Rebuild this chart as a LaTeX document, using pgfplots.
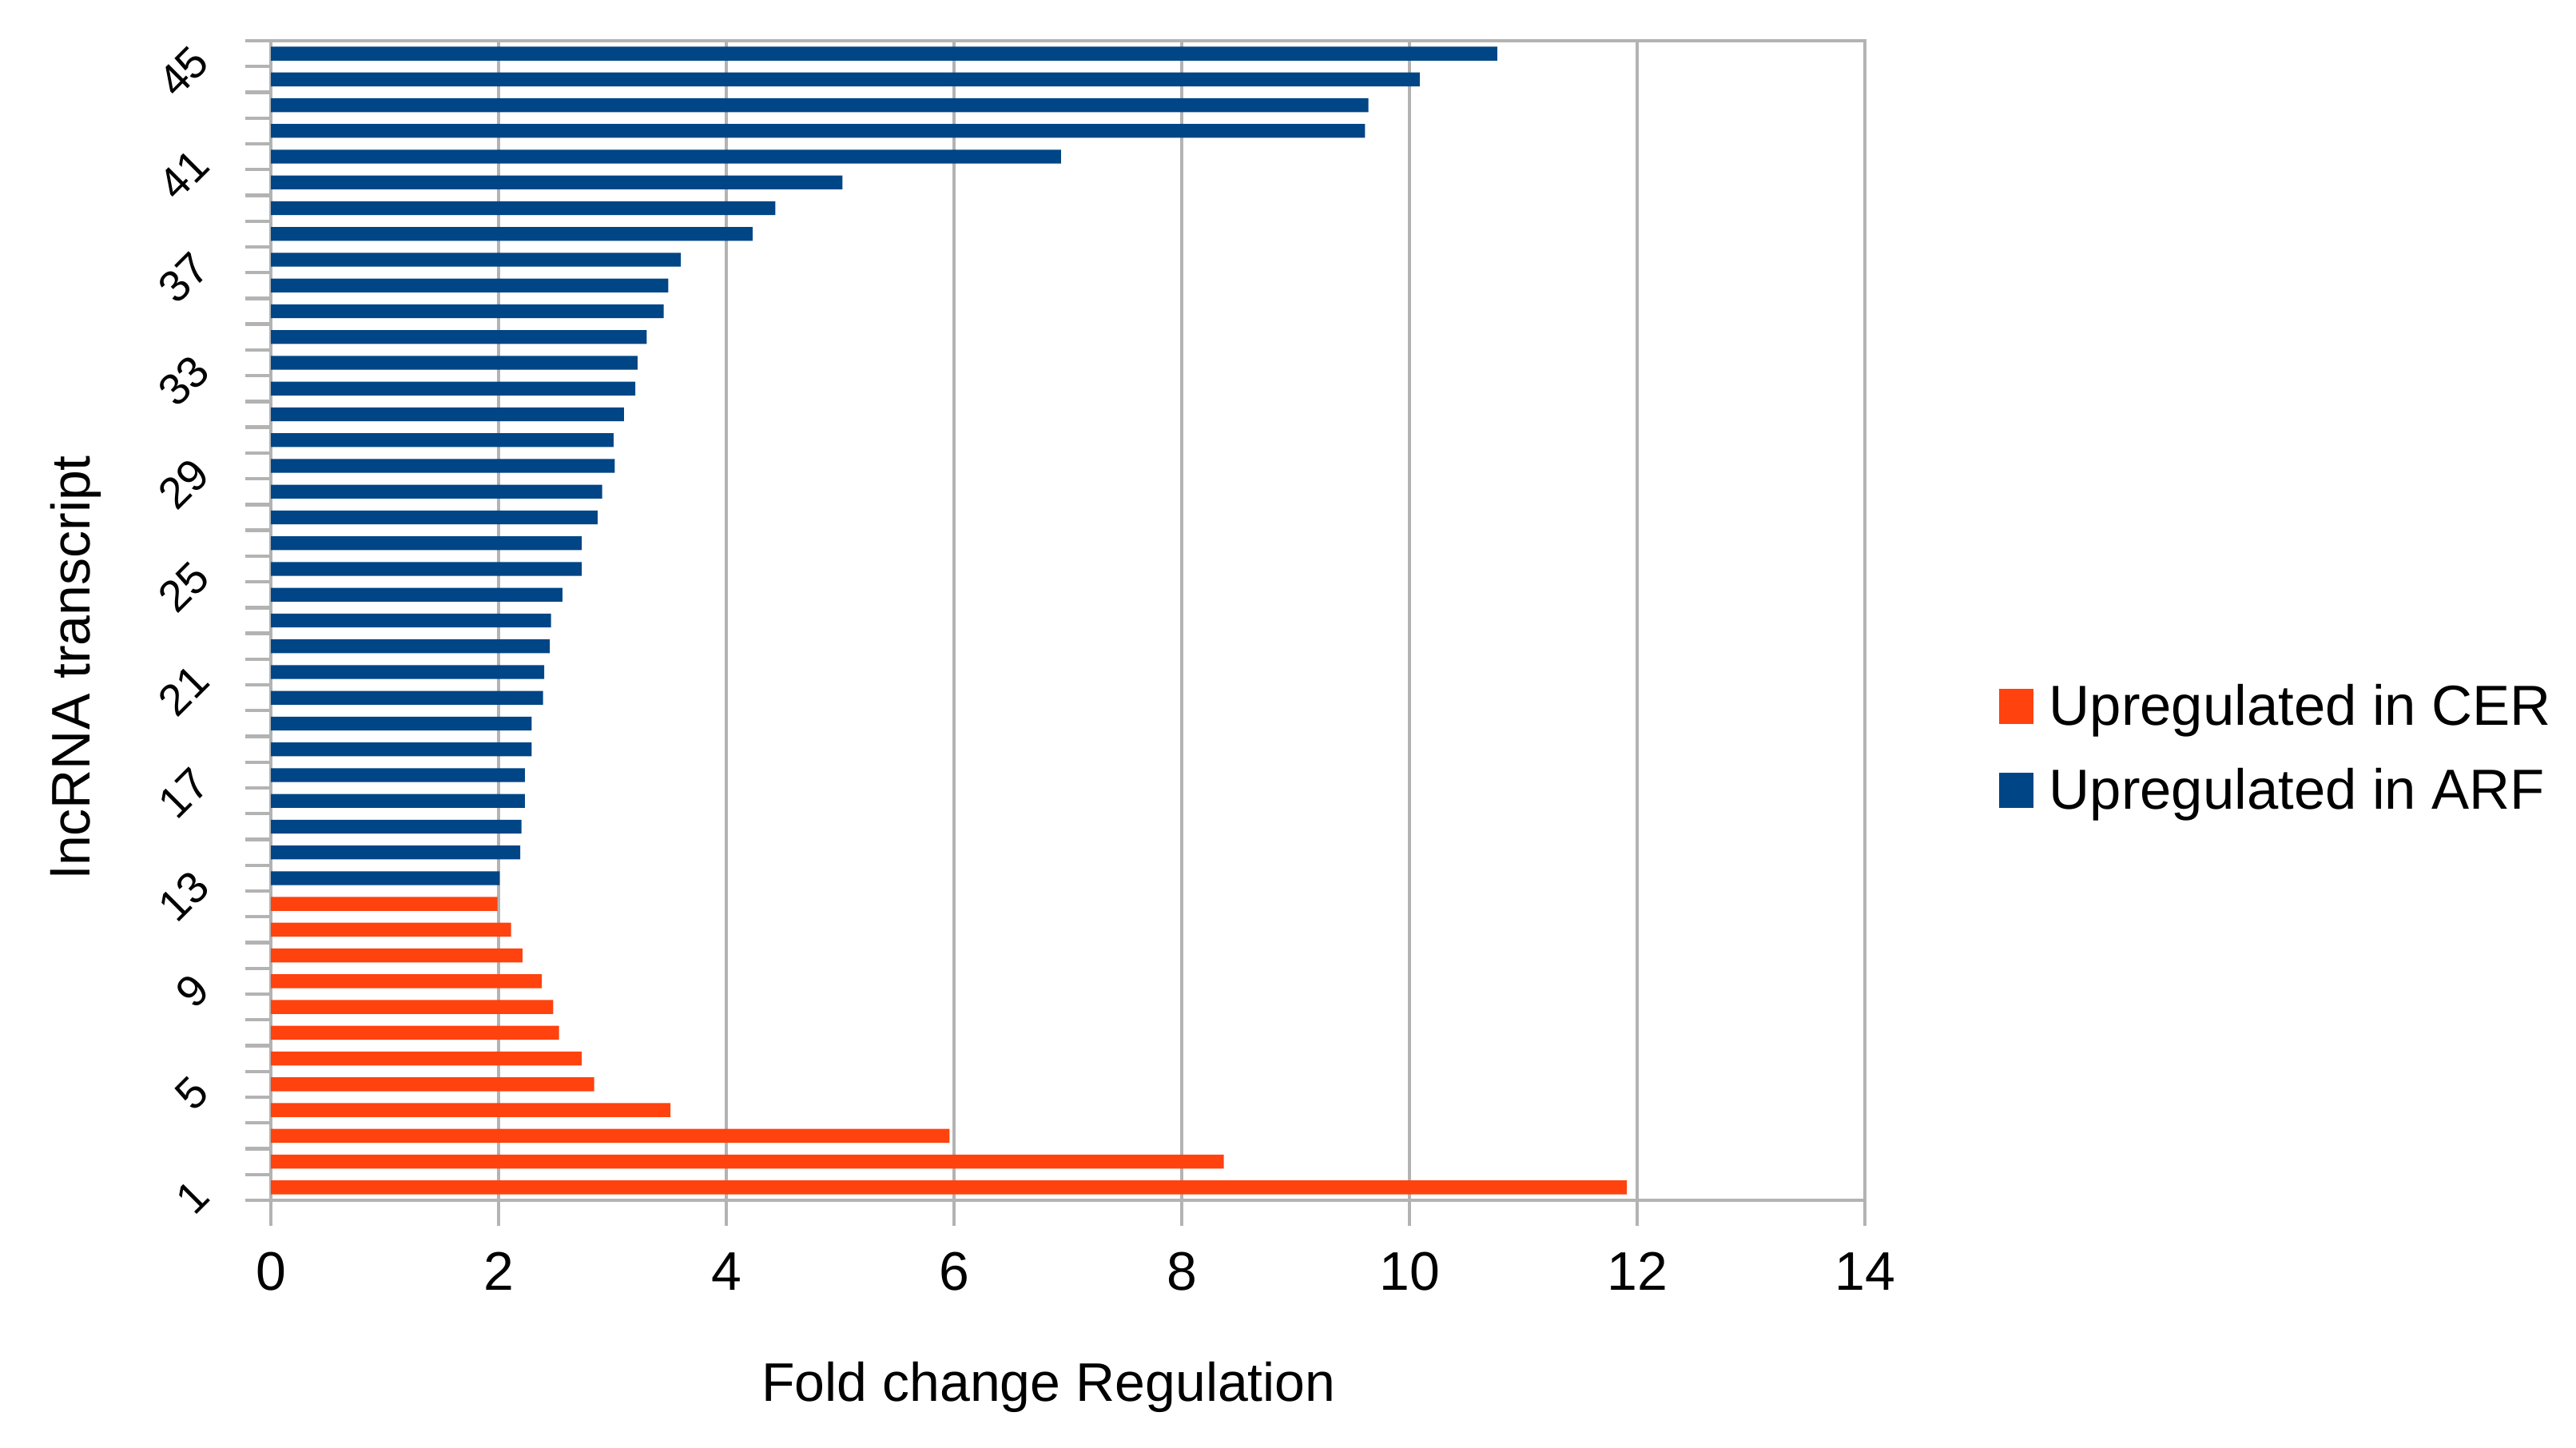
\documentclass[border=0pt]{standalone}
\usepackage{fontspec}
\setmainfont{Liberation Sans}
\usepackage{pgfplots}
\usepackage{pgfplotstable}
\pgfplotsset{compat=1.18}
\definecolor{cer}{HTML}{FF420E}
\definecolor{arf}{HTML}{004586}
\definecolor{gridgray}{HTML}{B3B3B3}
\pgfplotstableread{
y v
1 11.91
2 8.37
3 5.96
4 3.51
5 2.84
6 2.73
7 2.53
8 2.48
9 2.38
10 2.21
11 2.11
12 1.99
}\cerdata
\pgfplotstableread{
y v
13 2.01
14 2.19
15 2.20
16 2.23
17 2.23
18 2.29
19 2.29
20 2.39
21 2.40
22 2.45
23 2.46
24 2.56
25 2.73
26 2.73
27 2.87
28 2.91
29 3.02
30 3.01
31 3.10
32 3.20
33 3.22
34 3.30
35 3.45
36 3.49
37 3.60
38 4.23
39 4.43
40 5.02
41 6.94
42 9.61
43 9.64
44 10.09
45 10.77
}\arfdata
\newcommand{\chartfont}{\fontsize{10.2}{12}\selectfont}
\begin{document}
\begin{tikzpicture}
\useasboundingbox (0,0) rectangle (483.6pt,271.8pt);
\begin{axis}[
  at={(50.85pt,46.5pt)}, anchor=south west,
  scale only axis, width=299.25pt, height=217.65pt,
  xbar, bar shift=0pt, bar width=2.6pt,
  xmin=0, xmax=14, ymin=0.5, ymax=45.5,
  enlargelimits=false,
  xtick={0,2,...,14}, minor xtick={0,2,...,14},
  ytick={1,5,...,45}, minor ytick={0.5,1.5,...,45.5},
  major tick length=0pt, minor tick length=4.8pt,
  tick align=outside, tick pos=left,
  minor tick style={draw=gridgray, line width=0.65pt},
  xmajorgrids, major grid style={draw=gridgray, line width=0.65pt},
  axis line style={draw=gridgray, line width=0.65pt},
  every tick label/.append style={text=black},
  /pgf/number format/assume math mode=true,
  xticklabel style={anchor=base, font=\chartfont}, xticklabel shift=16.95pt,
  yticklabel style={rotate=45, anchor=east, inner sep=0pt, font=\fontsize{8.3}{10}\selectfont}, yticklabel shift=13pt,
  xlabel={Fold change Regulation},
  xlabel style={at={(rel axis cs:0.488,-0.173)}, anchor=base, font=\chartfont},
  ylabel={lncRNA transcript},
  ylabel style={at={(rel axis cs:-0.1133,0.46)}, anchor=base, font=\chartfont},
  legend style={at={(rel axis cs:1.0842,0.4524)}, anchor=north west, draw=none, fill=none,
    inner sep=0pt, outer sep=0pt, row sep=2.95pt, column sep=0.9pt, font=\fontsize{10.6}{12.5}\selectfont,
    cells={anchor=base west, inner sep=0pt, text height=7.3pt, text depth=0pt}},
]
\addplot[fill=cer, draw=none,
  legend image code/.code={\fill[cer] (0pt,0.3pt) rectangle (6.5pt,6.9pt);}]
  table[x=v, y=y] {\cerdata};
\addplot[fill=arf, draw=none,
  legend image code/.code={\fill[arf] (0pt,0.3pt) rectangle (6.5pt,6.9pt);}]
  table[x=v, y=y] {\arfdata};
\legend{Upregulated in CER, Upregulated in ARF}
\end{axis}
\end{tikzpicture}
\end{document}
